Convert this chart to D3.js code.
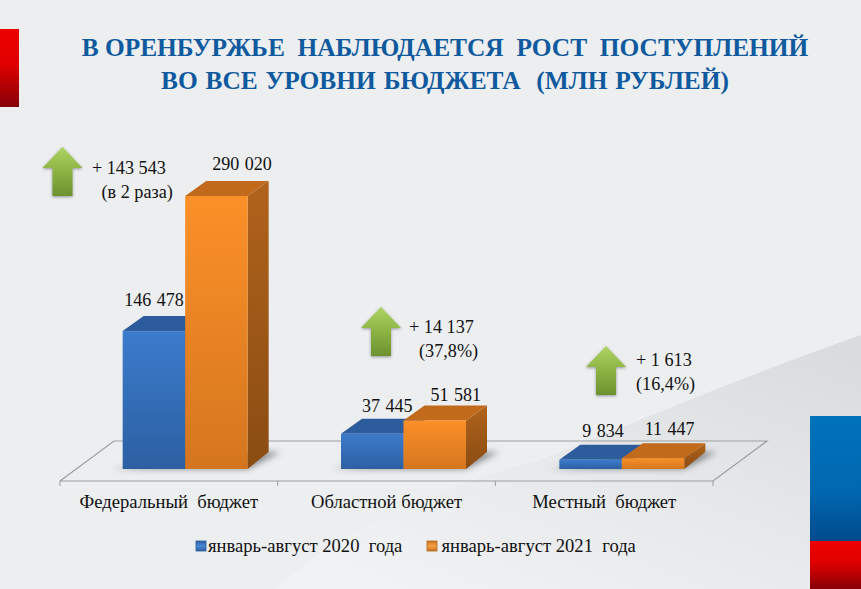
<!DOCTYPE html>
<html lang='en'>
<head>
  <meta charset='UTF-8'>
  <title>Бюджет</title>
  <script src='https://d3js.org/d3.v7.min.js'></script>
  <style>
    html, body { margin: 0; padding: 0; background: #eceef0; overflow: hidden; }
    svg { display: block; }
    text { font-family: 'Liberation Serif', serif; fill: #111; white-space: pre; }
  </style>
</head>
<body>
  <svg width='861' height='589'></svg>

  <script>
    var categories = ['Федеральный  бюджет', 'Областной бюджет', 'Местный  бюджет'];
    var seriesNames = ['январь-август 2020  года', 'январь-август 2021  года'];
    var values2020 = [146478, 37445, 9834];
    var values2021 = [290020, 51581, 11447];
    var changeLines = [['+ 143 543', '(в 2 раза)'], ['+ 14 137', '(37,8%)'], ['+ 1 613', '(16,4%)']];
    var titleLines = ['В ОРЕНБУРЖЬЕ  НАБЛЮДАЕТСЯ  РОСТ  ПОСТУПЛЕНИЙ', 'ВО ВСЕ УРОВНИ БЮДЖЕТА  (МЛН РУБЛЕЙ)'];

    var svg = d3.select('svg');
    var defs = svg.append('defs');

    function gradient(id, stops) {
      var g = defs.append('linearGradient').attr('id', id)
        .attr('x1', 0).attr('y1', 0).attr('x2', 0).attr('y2', 1);
      stops.forEach(s => g.append('stop').attr('offset', s[0]).attr('stop-color', s[1]));
      return g;
    }
    gradient('redBar', [[0, '#ee0000'], [0.45, '#e00000'], [1, '#860008']]);
    gradient('blueBar', [[0, '#0072bc'], [0.6, '#0068b0'], [1, '#004a8c']]);
    gradient('blueFront', [[0, '#3c7bcc'], [1, '#2c60a2']]);
    gradient('orangeFront', [[0, '#fc9028'], [1, '#d4761f']]);
    gradient('blueSide', [[0, '#234f86'], [1, '#1e4a80']]);
    gradient('orangeSide', [[0, '#b0631c'], [1, '#8a4c12']]);
    gradient('arrowFill', [[0, '#aed563'], [0.5, '#8cb343'], [1, '#6c9130']]);
    gradient('blueKey', [[0, '#2c5f9f'], [0.5, '#4a88d6'], [1, '#2c5f9f']]);
    gradient('orangeKey', [[0, '#c8741f'], [0.5, '#f4a043'], [1, '#c8741f']]);
    gradient('swoosh', [[0, '#d9dbdd'], [0.5, '#e6e8ea'], [1, '#f1f2f3']])
      .attr('x1', 1).attr('y1', 0.1).attr('x2', 0.2).attr('y2', 1);
    defs.append('filter').attr('id', 'soft').attr('x', '-30%').attr('y', '-100%').attr('width', '160%').attr('height', '300%')
      .append('feGaussianBlur').attr('stdDeviation', 3);
    var arrowShadow = defs.append('filter').attr('id', 'arrowShadow').attr('x', '-30%').attr('y', '-30%').attr('width', '160%').attr('height', '160%');
    arrowShadow.append('feDropShadow').attr('dx', 0).attr('dy', 1).attr('stdDeviation', 1.5).attr('flood-color', '#555').attr('flood-opacity', 0.6);

    // background swoosh
    svg.append('path').attr('fill', 'url(#swoosh)')
      .attr('d', 'M861,335 C760,370 640,420 540,460 C430,490 340,530 275,589 L861,589 Z');

    // side blocks
    svg.append('rect').attr('x', 0).attr('y', 29).attr('width', 19).attr('height', 78).attr('fill', 'url(#redBar)');
    svg.append('rect').attr('x', 810).attr('y', 416).attr('width', 51).attr('height', 125).attr('fill', 'url(#blueBar)');
    svg.append('rect').attr('x', 810).attr('y', 541).attr('width', 51).attr('height', 48).attr('fill', 'url(#redBar)');

    // title
    var titleSpacing = [0, 1.5];
    svg.selectAll('.title').data(titleLines).enter().append('text')
      .attr('class', 'title')
      .attr('x', 445)
      .attr('y', (d, i) => 56 + i * 32.5)
      .attr('text-anchor', 'middle')
      .attr('font-size', 25.4)
      .attr('font-weight', 'bold')
      .attr('word-spacing', (d, i) => titleSpacing[i])
      .style('fill', '#0f5a9e')
      .text(d => d);

    // scales
    var baseY = 469, floorDrop = 12, depthX = 21, depthY = 15, sideDepthY = 17;
    var x0 = d3.scaleBand().domain(categories).range([60, 713]);
    // the bars sit further back on the floor, so their slots are shifted and a bit wider
    var xBars = d3.scaleBand().domain(categories).range([76, 731]);
    var x1 = d3.scaleBand().domain(seriesNames).range([0, 125]);
    var y = d3.scaleLinear().domain([0, 290020]).range([baseY, 196]);
    function groupCenter(c) { return xBars(c) + xBars.step() / 2; }
    function groupX(c) { return groupCenter(c) - 62.5; }

    // floor
    var floorFront = baseY + floorDrop, floorBack = floorFront - 40, floorSkew = 54;
    svg.append('path').attr('fill', 'none').attr('stroke', '#9b9d9f').attr('stroke-width', 1.2)
      .attr('d', d3.line()([[60, floorFront], [60 + floorSkew, floorBack], [713 + floorSkew, floorBack], [713, floorFront], [60, floorFront]]));
    svg.selectAll('.tick').data(x0.domain().concat(['end'])).enter().append('line')
      .attr('x1', (d, i) => 60 + i * x0.step()).attr('x2', (d, i) => 60 + i * x0.step())
      .attr('y1', floorFront).attr('y2', floorFront + 5)
      .attr('stroke', '#9b9d9f');
    svg.selectAll('.cat').data(categories).enter().append('text')
      .attr('x', d => x0(d) + x0.step() / 2)
      .attr('y', floorFront + 27)
      .attr('text-anchor', 'middle')
      .attr('font-size', 18.6)
      .text(d => d);

    // bars
    var bars = [];
    categories.forEach((c, i) => {
      bars.push({cat: c, s: seriesNames[0], v: values2020[i], k: 0});
      bars.push({cat: c, s: seriesNames[1], v: values2021[i], k: 1});
    });
    // bar shadows on the floor
    svg.selectAll('.shadow').data(categories).enter().append('path')
      .attr('fill', '#6b6b6b').attr('opacity', 0.75).attr('filter', 'url(#soft)')
      .attr('d', c => {
        var l = groupX(c);
        return d3.line()([[l - 10, baseY], [l + 125, baseY], [l + 125 + depthX + 12, baseY - sideDepthY], [l + 125, baseY - sideDepthY]]) + 'Z';
      });

    var palette = [
      {front: 'url(#blueFront)', top: '#2c5c9c', side: 'url(#blueSide)', key: 'url(#blueKey)', edge: '#2c5c9c'},
      {front: 'url(#orangeFront)', top: '#c26a1c', side: 'url(#orangeSide)', key: 'url(#orangeKey)', edge: '#b0661c'}
    ];
    // 2021 drawn last so its front covers the blue side
    var bar = svg.selectAll('.bar').data(bars.sort((a, b) => a.k - b.k)).enter().append('g').attr('class', 'bar');
    bar.append('path').attr('fill', d => palette[d.k].side)
      .attr('d', d => {
        var l = groupX(d.cat) + x1(d.s), r = l + x1.bandwidth(), t = y(d.v);
        return d3.line()([[r, t], [r + depthX, t - depthY], [r + depthX, baseY - sideDepthY], [r, baseY]]) + 'Z';
      });
    bar.append('path').attr('fill', d => palette[d.k].top)
      .attr('d', d => {
        var l = groupX(d.cat) + x1(d.s), r = l + x1.bandwidth(), t = y(d.v);
        return d3.line()([[l, t], [l + depthX, t - depthY], [r + depthX, t - depthY], [r, t]]) + 'Z';
      });
    bar.append('rect').attr('fill', d => palette[d.k].front)
      .attr('x', d => groupX(d.cat) + x1(d.s))
      .attr('y', d => y(d.v))
      .attr('width', x1.bandwidth())
      .attr('height', d => baseY - y(d.v));

    // value labels, nudged by hand like the original
    var labelDx = [[0, 25.5], [15, 21], [12.5, 16.5]];
    var labelDy = [[-25, -26], [-22, -19], [-23, -23]];
    var fmt = v => d3.format(',')(v).replace(/,/g, ' ');
    bars.forEach(d => {
      var i = categories.indexOf(d.cat);
      svg.append('text')
        .attr('x', groupX(d.cat) + x1(d.s) + x1.bandwidth() / 2 + labelDx[i][d.k])
        .attr('y', y(d.v) + labelDy[i][d.k])
        .attr('text-anchor', 'middle')
        .attr('font-size', 18)
        .attr('word-spacing', 1)
        .text(fmt(d.v));
    });

    // arrows and change notes
    var arrowDx = [-122.7, -22.5, -15.8];
    var arrowTop = [147, 307, 346];
    var noteDx = [29.5, 28, 30];
    var noteLine2Dx = [9.5, 10, 0];
    var noteDy = [27, 26, 20];
    categories.forEach((c, i) => {
      var cx = groupCenter(c) + arrowDx[i], t = arrowTop[i];
      svg.append('path').attr('fill', 'url(#arrowFill)').attr('filter', 'url(#arrowShadow)')
        .attr('d', d3.line()([[cx, t], [cx + 20, t + 21], [cx + 10, t + 21], [cx + 10, t + 49], [cx - 10, t + 49], [cx - 10, t + 21], [cx - 20, t + 21]]) + 'Z');
      changeLines[i].forEach((s, j) => {
        svg.append('text')
          .attr('x', cx + noteDx[i] + (j ? noteLine2Dx[i] : 0))
          .attr('y', t + noteDy[i] + j * 24)
          .attr('font-size', 18.2)
          .text(s);
      });
    });

    // legend
    var legendX = [196, 427];
    var legendTextDx = [12, 14.5];
    seriesNames.forEach((s, i) => {
      svg.append('rect').attr('x', legendX[i]).attr('y', 541).attr('width', 10).attr('height', 10)
        .attr('fill', palette[i].key).attr('stroke', palette[i].edge).attr('stroke-width', 0.8);
      svg.append('text').attr('x', legendX[i] + legendTextDx[i]).attr('y', 552)
        .attr('font-size', 18.6).text(s);
    });
  </script>
</body>
</html>
